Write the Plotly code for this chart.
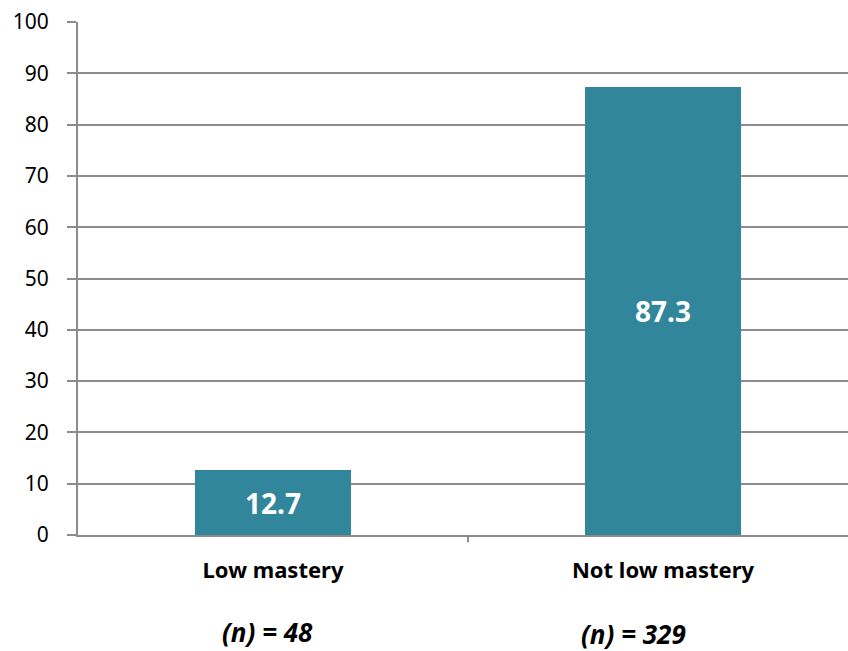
import plotly.graph_objects as go

categories = ["Low mastery", "Not low mastery"]
values = [12.7, 87.3]
n_labels = ["(n) = 48", "(n) = 329"]
y_ticks = [0, 10, 20, 30, 40, 50, 60, 70, 80, 90, 100]

FONT = "Noto Sans, Open Sans, Liberation Sans, sans-serif"
GRID = "#8c8c8c"

fig = go.Figure()
fig.add_trace(go.Bar(
    x=[0, 1], y=values, width=0.4,
    marker=dict(color="#31869b", line=dict(width=0)),
    text=[f"{v:.1f}" for v in values],
    textposition="inside", insidetextanchor="middle",
    textfont=dict(family=FONT, size=28, color="white", weight="bold"),
    hoverinfo="skip",
))

fig.update_layout(
    width=848, height=651,
    margin=dict(l=78, r=0, t=22, b=116),
    paper_bgcolor="white", plot_bgcolor="white",
    showlegend=False,
    bargap=0,
)
fig.update_xaxes(
    range=[-0.5, 0.5 + (848 - 468) / 390],
    tickmode="array", tickvals=[0, 1], ticktext=[f"<b>{c}</b>" for c in categories],
    tickfont=dict(family=FONT, size=22, color="black"),
    ticks="", showgrid=False, zeroline=False,
    showline=True, linecolor=GRID, linewidth=2,
    ticklabelstandoff=15,
)
fig.update_yaxes(
    range=[0, 100], tickmode="array", tickvals=y_ticks,
    tickfont=dict(family=FONT, size=21, color="black"),
    showgrid=True, gridcolor=GRID, gridwidth=2,
    showline=True, linecolor=GRID, linewidth=2,
    ticks="outside", ticklen=9, tickcolor=GRID, tickwidth=2,
    zeroline=False, ticklabelstandoff=14,
)
# category separator tick below axis
fig.add_shape(type="line", xref="x", yref="paper", x0=0.5, x1=0.5, y0=0, y1=-0.014,
              line=dict(color=GRID, width=2))

n_pos = [(267, 632), (633, 634)]
for (px, py), lab in zip(n_pos, n_labels):
    fig.add_annotation(
        xref="paper", yref="paper",
        x=(px - 78) / (848 - 78), y=-(py - 535) / (535 - 22),
        text=f"<b><i>{lab}</i></b>", showarrow=False,
        font=dict(family=FONT, size=26, color="black"),
        xanchor="center", yanchor="middle",
    )

fig.write_html("out.html", config={"displayModeBar": False},
               post_script="document.body.style.margin='0';document.body.style.overflow='hidden';")
